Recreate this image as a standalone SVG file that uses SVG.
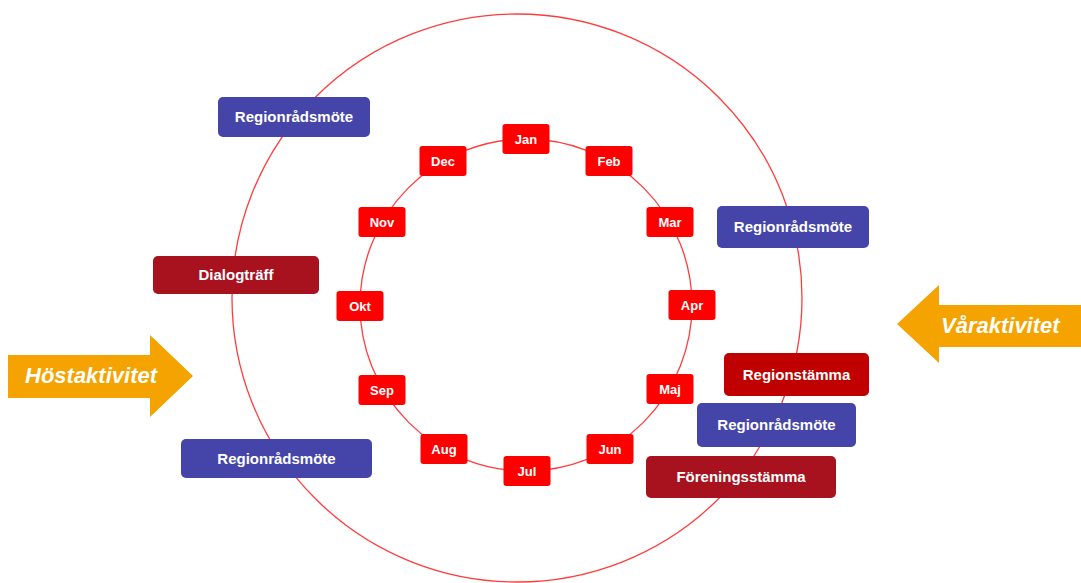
<svg xmlns="http://www.w3.org/2000/svg" width="1081" height="583" viewBox="0 0 1081 583">
<style>
.ring{fill:none;stroke:#FF3C3C;stroke-width:1.3}
.m rect{fill:#FF0000}
.m text{fill:#fff;font-family:"Liberation Sans",Arial,sans-serif;font-weight:bold;font-size:13px;text-anchor:middle}
.b rect{fill:#4545A9}
.d rect{fill:#A8121F}
.s rect{fill:#C00000}
.o text{fill:#fff;font-family:"Liberation Sans",Arial,sans-serif;font-weight:bold;font-size:15px;text-anchor:middle}
.arrow path{fill:#F5A300}
.arrow text{fill:#fff;font-family:"Liberation Sans",Arial,sans-serif;font-weight:bold;font-style:italic;font-size:22px}
</style>
<rect width="1081" height="583" fill="#fff"/>
<g id="connectors">
<ellipse class="ring" cx="517" cy="298" rx="285" ry="284"/>
<circle class="ring" cx="526" cy="305" r="166"/>
</g>
<g id="jan" class="m"><rect x="502.5" y="124" width="47" height="30" rx="3"/><text x="526" y="144">Jan</text></g>
<g id="feb" class="m"><rect x="585.5" y="146" width="47" height="30" rx="3"/><text x="609" y="166">Feb</text></g>
<g id="mar" class="m"><rect x="646.5" y="207" width="47" height="30" rx="3"/><text x="670" y="227">Mar</text></g>
<g id="apr" class="m"><rect x="668.5" y="290" width="47" height="30" rx="3"/><text x="692" y="310">Apr</text></g>
<g id="maj" class="m"><rect x="646.5" y="374" width="47" height="30" rx="3"/><text x="670" y="394">Maj</text></g>
<g id="jun" class="m"><rect x="586.5" y="434" width="47" height="30" rx="3"/><text x="610" y="454">Jun</text></g>
<g id="jul" class="m"><rect x="503.5" y="456" width="47" height="30" rx="3"/><text x="527" y="476">Jul</text></g>
<g id="aug" class="m"><rect x="420.5" y="434" width="47" height="30" rx="3"/><text x="444" y="454">Aug</text></g>
<g id="sep" class="m"><rect x="358.5" y="375" width="47" height="30" rx="3"/><text x="382" y="395">Sep</text></g>
<g id="okt" class="m"><rect x="336.5" y="291" width="47" height="30" rx="3"/><text x="360" y="311">Okt</text></g>
<g id="nov" class="m"><rect x="358.5" y="207" width="47" height="30" rx="3"/><text x="382" y="227">Nov</text></g>
<g id="dec" class="m"><rect x="419.5" y="146" width="47" height="30" rx="3"/><text x="443" y="166">Dec</text></g>
<g id="regionradsmote-1" class="o b"><rect x="218" y="97" width="152" height="40" rx="5"/><text x="294" y="122">Regionrådsmöte</text></g>
<g id="dialogtraff" class="o d"><rect x="153" y="256" width="166" height="38" rx="5"/><text x="236" y="280">Dialogträff</text></g>
<g id="regionradsmote-2" class="o b"><rect x="181" y="439" width="191" height="39" rx="5"/><text x="276.5" y="464">Regionrådsmöte</text></g>
<g id="regionradsmote-3" class="o b"><rect x="717" y="206" width="152" height="42" rx="5"/><text x="793" y="232">Regionrådsmöte</text></g>
<g id="regionstamma" class="o s"><rect x="724" y="353" width="145" height="43" rx="5"/><text x="796.5" y="380">Regionstämma</text></g>
<g id="regionradsmote-4" class="o b"><rect x="697" y="403" width="159" height="44" rx="5"/><text x="776.5" y="430">Regionrådsmöte</text></g>
<g id="foreningsstamma" class="o d"><rect x="646" y="456" width="190" height="42" rx="5"/><text x="741" y="482">Föreningsstämma</text></g>
<g id="hostaktivitet" class="arrow"><path d="M8 355 H150 V335 L193 376 L150 417 V398 H8 Z"/><text x="25" y="383">Höstaktivitet</text></g>
<g id="varaktivitet" class="arrow"><path d="M1081 305 H939 V285 L897 324 L939 363 V347 H1081 Z"/><text x="941" y="333">Våraktivitet</text></g>
</svg>
